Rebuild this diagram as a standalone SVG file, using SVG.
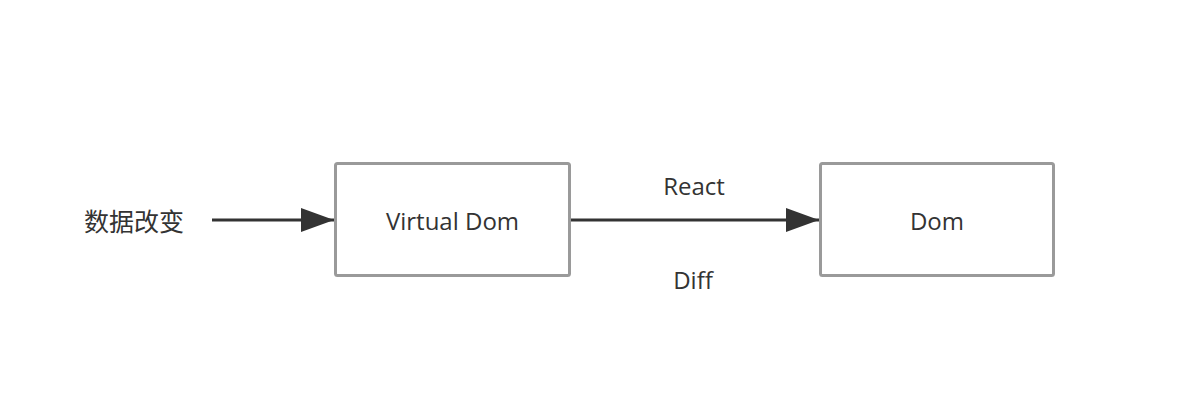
<svg xmlns="http://www.w3.org/2000/svg" width="1190" height="406" viewBox="0 0 1190 406">
<style>
.box{fill:#fff;stroke:#9a9a9a;stroke-width:3}
.t{font-family:"Open Sans","Noto Sans CJK SC",sans-serif;font-size:24px;fill:#333;text-anchor:middle;dominant-baseline:central}
.cjk{font-family:"Noto Sans CJK SC",sans-serif;font-size:25px}
.edge{stroke:#333;stroke-width:3;fill:none}
</style>
<defs>
<marker id="ah" markerWidth="11" markerHeight="8" refX="11" refY="4" orient="auto" markerUnits="strokeWidth">
<path d="M0,0 L11,4 L0,8 Z" fill="#333"/>
</marker>
</defs>
<rect width="1190" height="406" fill="#fff"/>
<g id="connectors">
<line class="edge" x1="212" y1="220" x2="334" y2="220" marker-end="url(#ah)"/>
<line class="edge" x1="571" y1="220" x2="819" y2="220" marker-end="url(#ah)"/>
<text class="t" x="694" y="185">React</text>
<text class="t" x="693" y="279">Diff</text>
</g>
<g id="input">
<text class="t cjk" x="134" y="220">数据改变</text>
</g>
<g id="virtual-dom">
<rect class="box" x="335.5" y="163.5" width="234" height="112" rx="2"/>
<text class="t" x="452.5" y="220">Virtual Dom</text>
</g>
<g id="dom">
<rect class="box" x="820.5" y="163.5" width="233" height="112" rx="2"/>
<text class="t" x="937" y="220">Dom</text>
</g>
</svg>
